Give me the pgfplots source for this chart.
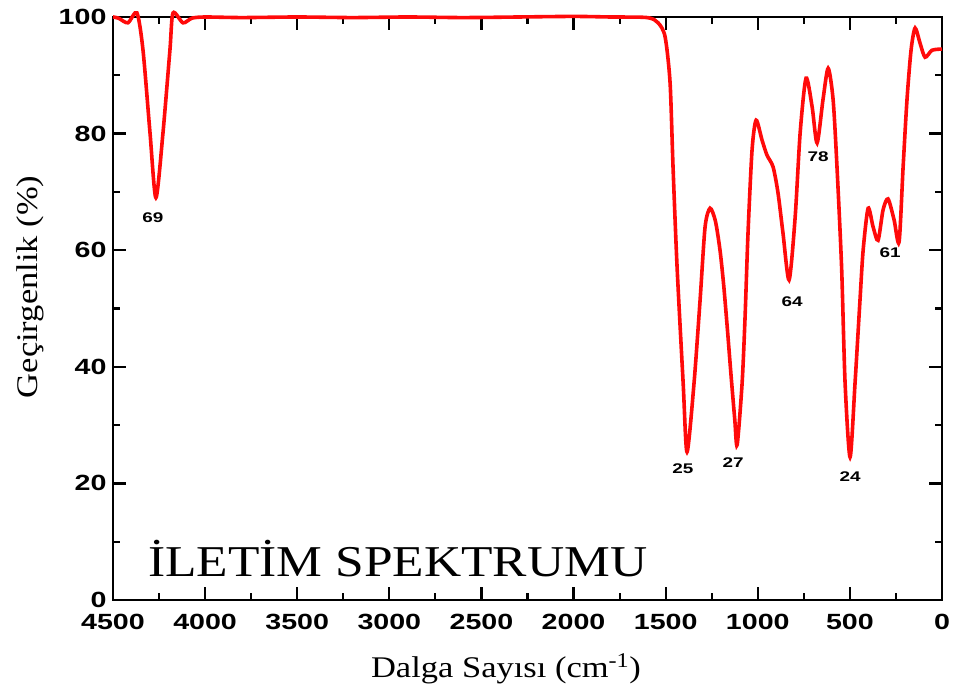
\documentclass[border=0pt]{standalone}
\usepackage{pgfplots}
\pgfplotsset{compat=1.18}
\usepackage{fontspec}
\setmainfont{Liberation Serif}
\newfontfamily\tickfont[FakeStretch=1.3]{Liberation Sans}
\newfontfamily\peakfont[FakeStretch=1.35]{Liberation Sans}
\newfontfamily\labfont[FakeStretch=1.15]{Liberation Serif}
\newfontfamily\titfont[FakeStretch=1.17]{Liberation Serif}
\usetikzlibrary{calc}
\definecolor{specred}{RGB}{255,10,10}
\begin{document}
\begin{tikzpicture}
\begin{axis}[
  scale only axis,
  width=829pt, height=583pt,
  xmin=0, xmax=4500, ymin=0, ymax=100,
  x dir=reverse,
  xtick={0,500,...,4500}, ytick={0,20,...,100},
  minor x tick num=1, minor y tick num=1,
  tick align=inside,
  major tick length=13pt, minor tick length=7pt,
  axis line style={line width=2.6pt, black},
  every tick/.style={black, line width=2.2pt},
  /pgf/number format/assume math mode=true,
  /pgf/number format/1000 sep={},
  ticklabel style={font=\tickfont\bfseries\fontsize{22}{22}\selectfont, text=black},
  xticklabel style={yshift=-11pt},
  yticklabel style={xshift=-3pt},
  xlabel={Dalga Sayısı (cm\textsuperscript{-1})},
  xlabel style={at={(axis description cs:0.474,0)}, anchor=base, yshift=-77pt, font=\labfont\fontsize{30}{30}\selectfont},
  ylabel={Geçirgenlik (\%)},
  ylabel style={at={(axis description cs:-0.0905,0.537)}, anchor=base, rotate=0, font=\labfont\fontsize{30}{30}\selectfont},
  clip=false,
]
\addplot[specred, line width=3.6pt, smooth, tension=0.45] coordinates {
(4500,100) (4470,99.8) (4419,99.0) (4370,100.7) (4337,94.3) (4299,80.1) (4267,69)
(4229,80) (4191,94.3) (4174,100.7) (4120,99.0) (4071,99.8) (4000,100) (3800,99.9)
(3500,100) (3200,99.9) (2900,100) (2600,99.9) (2300,100) (2000,100.1) (1800,100) (1600,99.9)
(1541,99.0) (1503,96.6) (1476,88.7) (1460,74.3) (1438,57.1) (1405,37.2) (1384,25.4)
(1346,37.2) (1313,51.5) (1286,64) (1259,67.2) (1230,65) (1205,60) (1185,54)
(1165,46.5) (1145,38.5) (1125,31) (1112,26.6) (1085,37.2) (1069,48.5) (1053,62.9) (1031,77.2)
(1009,82.3) (977,78.9) (950,76.3) (917,74.3) (890,69.8) (863,62.9) (830,54.9)
(797,65.7) (770,80.1) (738,89.5) (705,84.6) (678,78.4) (646,85.8) (618,91.2)
(591,85.8) (570,74.3) (545,57.1) (526,37.2) (499,24.5) (472,37.2) (445,51.5)
(428,60) (401,67.2) (374,64) (347,61.7) (320,66.9) (293,68.8) (260,65.2) (233,61.4)
(211,74.3) (190,85.8) (168,94.3) (146,98.1) (119,95.5) (92,93.1) (54,94.3) (0,94.5)
};
\begin{scope}[every node/.style={font=\peakfont\bfseries\fontsize{14}{14}\selectfont, text=black}]
\node at (axis cs:4283,65.5) {69};
\node at (axis cs:1406,22.6) {25};
\node at (axis cs:1134,23.5) {27};
\node at (axis cs:499,21.1) {24};
\node at (axis cs:814,51.1) {64};
\node at (axis cs:673,76) {78};
\node at (axis cs:282,59.5) {61};
\end{scope}
\node[anchor=base west, font=\titfont\fontsize{44}{44}\selectfont, inner sep=0pt] at (axis cs:4310,4.1) {İLETİM SPEKTRUMU};
\coordinate (sw) at (axis description cs:0,0);
\coordinate (ne) at (axis description cs:1,1);
\end{axis}
\pgfresetboundingbox
\path ($(sw)+(-113pt,-90pt)$) rectangle ($(ne)+(12pt,17pt)$);
\end{tikzpicture}
\end{document}
